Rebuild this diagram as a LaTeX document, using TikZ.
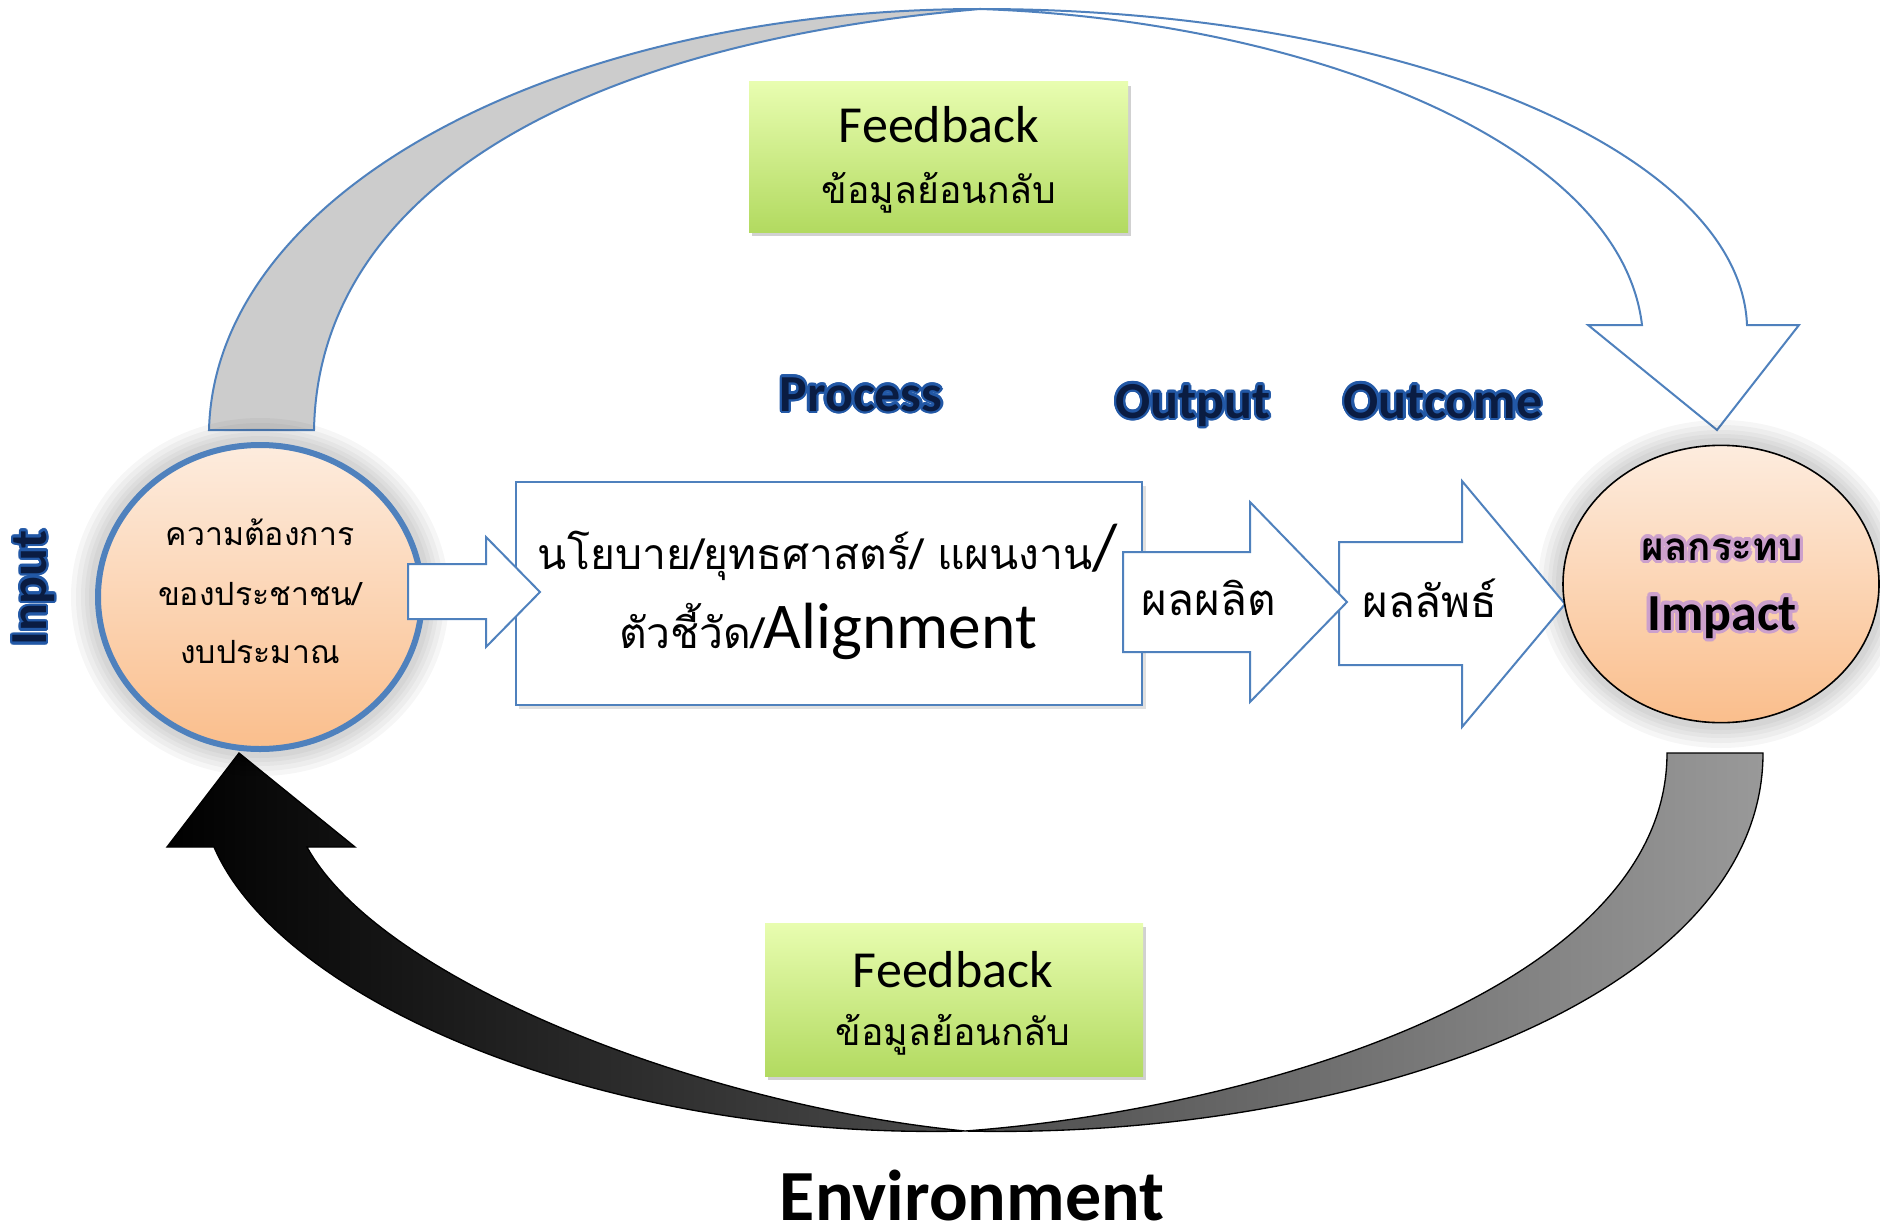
\documentclass[tikz,border=0pt]{standalone}
\usepackage{fontspec}
\setmainfont{Carlito}
\newfontfamily\thaifont[Script=Thai]{Loma}
\usepackage{contour}
\contourlength{1.8pt}
\contournumber{16}
\usetikzlibrary{shapes.geometric}

\definecolor{arrowblue}{RGB}{79,129,189}
\definecolor{navytext}{RGB}{10,28,66}
\definecolor{glowblue}{RGB}{34,88,166}
\definecolor{peachtop}{RGB}{253,236,222}
\definecolor{peachbot}{RGB}{250,190,140}
\definecolor{greentop}{RGB}{232,253,176}
\definecolor{greenbot}{RGB}{178,218,96}
\definecolor{impactglow}{RGB}{204,160,204}

\tikzset{
  lbl/.style={inner sep=0.75pt, anchor=base, text=navytext, font=\fontsize{39}{40}\selectfont\bfseries},
  thtxt/.style={inner sep=0.75pt, anchor=base},
  fbbox/.style={rectangle, inner sep=0pt, top color=greentop, bottom color=greenbot, minimum width=284.25pt, minimum height=112.5pt},
  blockarrow/.style={draw=arrowblue, line width=1.5pt, fill=white, line join=miter},
  halo/.style={fill=black, opacity=0.035},
}

\begin{document}
\begin{tikzpicture}[x=0.75pt,y=0.75pt,yscale=-1,xscale=1]
\useasboundingbox (0,0) rectangle (1880,1231);

%Curved Arrow: top feedback, grey half
\filldraw [draw=arrowblue, line width=1.5pt, fill=black!20] (209,430) .. controls (215,190) and (560,9) .. (980,9) .. controls (560,45) and (318,200) .. (314,430) -- cycle ;
%Curved Arrow: top feedback, white half with head
\filldraw [draw=arrowblue, line width=1.5pt, fill=white, line join=miter] (980,9) .. controls (1400,9) and (1740,150) .. (1747,325) -- (1799,325) -- (1717,430) -- (1588,325) -- (1642,325) .. controls (1620,140) and (1300,20) .. (980,9) -- cycle ;

%Curved Arrow: bottom feedback
\shadedraw [left color=black, right color=black!40, draw=black, line width=1pt, line join=miter] (239,753) -- (167,847) -- (214,847) .. controls (280,1000) and (600,1140) .. (965,1131) .. controls (1350,1140) and (1763,1000) .. (1763,753) -- (1667,753) .. controls (1667,990) and (1250,1110) .. (965,1131) .. controls (700,1105) and (380,980) .. (307,847) -- (355,847) -- cycle ;

%Shape: Ellipse glow
\coordinate (inc) at (260,597);
\coordinate (imc) at (1721,584);
\foreach \g in {24,19,14,10,6} {
  \fill [halo] (inc) ellipse [x radius=165+\g, y radius=155+\g];
  \fill [halo] (imc) ellipse [x radius=159+\g, y radius=140+\g];
}
%Shape: Ellipse [input]
\node [ellipse, draw=arrowblue, line width=4.5pt, top color=peachtop, bottom color=peachbot, minimum width=243pt, minimum height=228pt, inner sep=0pt] (need) at (inc) {};

%Shape: Rectangle [process]
\fill [black!12] (519,486) rectangle (1146,709);
\node [rectangle, draw=arrowblue, line width=1.5pt, fill=white, minimum width=469.5pt, minimum height=167.25pt, inner sep=0pt] (proc) at (829,593.5) {};

%Block Arrows
\draw [blockarrow] (408,564) -- (486,564) -- (486,537) -- (540,592) -- (486,647) -- (486,619) -- (408,619) -- cycle ;
\draw [blockarrow] (1339,542) -- (1462,542) -- (1462,481) -- (1565,604) -- (1462,727) -- (1462,665) -- (1339,665) -- cycle ;
\draw [blockarrow] (1123,552) -- (1250,552) -- (1250,502) -- (1347,602) -- (1250,702) -- (1250,652) -- (1123,652) -- cycle ;

%Shape: Ellipse [impact]
\node [ellipse, draw=black, line width=1.2pt, top color=peachtop, bottom color=peachbot, minimum width=237pt, minimum height=208pt, inner sep=0pt] (impact) at (imc) {};

%Shape: Rectangle [feedback boxes]
\fill [black!18] (752,86) rectangle (1131,236);
\node [fbbox] (fbtop) at (938.5,157) {};
\fill [black!18] (768,927) rectangle (1146,1080);
\node [fbbox, minimum width=283.5pt, minimum height=114.75pt] (fbbot) at (954,999.5) {};

% Text Node
\draw (939,142) node [thtxt] (fbtopen) {\fontsize{39}{40}\selectfont Feedback};
% Text Node
\draw (939,203) node [thtxt] (fbtopth) {\thaifont\fontsize{28}{30}\selectfont ข้อมูลย้อนกลับ};
% Text Node
\draw (953,987) node [thtxt] (fbboten) {\fontsize{39}{40}\selectfont Feedback};
% Text Node
\draw (953,1045) node [thtxt] (fbbotth) {\thaifont\fontsize{28}{30}\selectfont ข้อมูลย้อนกลับ};

% Text Node
\draw (35,588) node [lbl, anchor=center, rotate=90] (input) {\contour{glowblue}{Input}};
% Text Node
\draw (861,411) node [lbl] (process) {\contour{glowblue}{Process}};
% Text Node
\draw (1193,418) node [lbl] (output) {\contour{glowblue}{Output}};
% Text Node
\draw (1443,418) node [lbl] (outcome) {\contour{glowblue}{Outcome}};

% Text Node
\draw (260,545) node [thtxt] (needa) {\thaifont\fontsize{24}{26}\selectfont ความต้องการ};
% Text Node
\draw (260,605) node [thtxt] (needb) {\thaifont\fontsize{24}{26}\selectfont ของประชาชน/};
% Text Node
\draw (260,663) node [thtxt] (needc) {\thaifont\fontsize{24}{26}\selectfont งบประมาณ};

% Text Node
\draw (828,569) node [thtxt] (proca) {{\thaifont\fontsize{32}{34}\selectfont นโยบาย/ยุทธศาสตร์/ แผนงาน}{\fontsize{49}{50}\selectfont /}};
% Text Node
\draw (828,648) node [thtxt] (procb) {{\thaifont\fontsize{32}{34}\selectfont ตัวชี้วัด/}{\fontsize{49}{50}\selectfont Alignment}};

% Text Node
\draw (1209,615) node [thtxt] (outtxt) {\thaifont\fontsize{33}{35}\selectfont ผลผลิต};
% Text Node
\draw (1430,617) node [thtxt] (outctxt) {\thaifont\fontsize{33}{35}\selectfont ผลลัพธ์};

% Text Node
\draw (1722,560) node [thtxt] (impth) {\contourlength{2.5pt}\contour{impactglow}{\thaifont\bfseries\fontsize{29}{31}\selectfont ผลกระทบ}};
% Text Node
\draw (1722,630) node [thtxt] (impen) {\contourlength{2.5pt}\contour{impactglow}{\bfseries\fontsize{39}{40}\selectfont Impact}};

% Text Node
\draw (972,1220) node [thtxt] (environ) {\bfseries\fontsize{54}{56}\selectfont Environment};

\end{tikzpicture}
\end{document}
